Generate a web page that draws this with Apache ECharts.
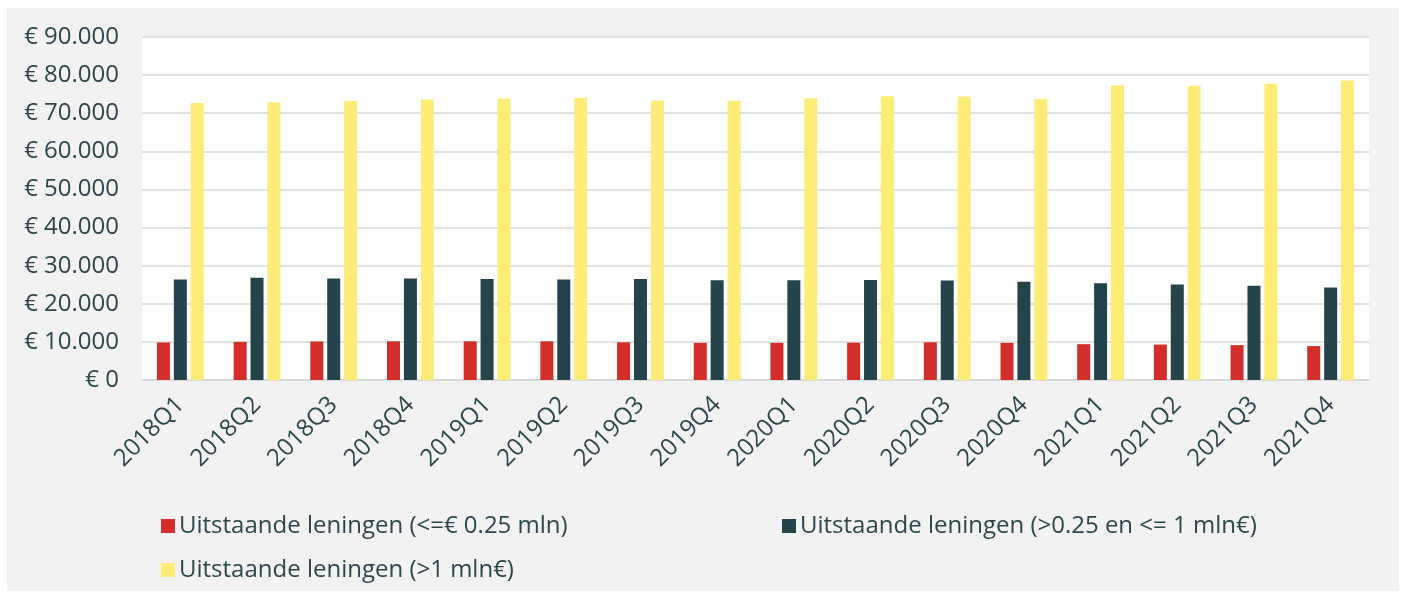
<!DOCTYPE html>
<html>
<head>
<meta charset="utf-8">
<script src="https://cdn.jsdelivr.net/npm/echarts@6/dist/echarts.min.js"></script>
<style>
  html, body { margin: 0; padding: 0; background: #fff; }
  #chart { position: absolute; left: 7px; top: 8px; width: 1392px; height: 583px; }
</style>
</head>
<body>
<div id="chart"></div>
<script>
// kwartalen
const categories = ['2018Q1', '2018Q2', '2018Q3', '2018Q4', '2019Q1', '2019Q2', '2019Q3', '2019Q4',
  '2020Q1', '2020Q2', '2020Q3', '2020Q4', '2021Q1', '2021Q2', '2021Q3', '2021Q4']

const seriesNames = [
  'Uitstaande leningen (<=€ 0.25 mln)',
  'Uitstaande leningen (>0.25 en <= 1 mln€)',
  'Uitstaande leningen (>1 mln€)'
]

// waarden (x € 1.000)
const smallLoans = [9850, 10000, 10100, 10150, 10150, 10150, 9900, 9750,
  9750, 9800, 9900, 9750, 9400, 9300, 9150, 8900]
const mediumLoans = [26350, 26800, 26600, 26600, 26500, 26350, 26500, 26150,
  26150, 26250, 26100, 25750, 25400, 25050, 24700, 24250]
const largeLoans = [72700, 72900, 73200, 73600, 73850, 74000, 73350, 73250,
  73950, 74450, 74400, 73700, 77300, 77150, 77750, 78600]

const colors = ['#d42e2b', '#24434a', '#fdec75']
const textColor = '#2b474d'
const font = 'Open Sans'

const chart = echarts.init(document.getElementById('chart'))

// legenda: drie losse stukken zodat de posities kloppen
const _legend = {
  orient: 'horizontal',
  padding: 0,
  itemWidth: 14,
  itemHeight: 14,
  icon: 'rect',
  itemGap: 6,
  textStyle: { color: textColor, fontFamily: font, fontSize: 24, padding: [0, 0, 0, -1] }
}

const option = {
  backgroundColor: '#f2f2f2',
  color: colors,
  animation: false,
  grid: {
    left: 135,
    top: 29,
    width: 1227,
    height: 343,
    show: true,
    backgroundColor: '#ffffff',
    borderWidth: 0
  },
  legend: [
    { ..._legend, data: [seriesNames[0]], left: 154, top: 506 },
    { ..._legend, data: [seriesNames[1]], left: 775, top: 506 },
    { ..._legend, data: [seriesNames[2]], left: 154, top: 550 }
  ],
  xAxis: {
    type: 'category',
    data: categories,
    axisLine: { lineStyle: { color: '#d9d9d9', width: 2 } },
    axisTick: { show: false },
    axisLabel: {
      rotate: 45,
      interval: 0,
      margin: 21,
      color: textColor,
      fontFamily: font,
      fontSize: 24
    }
  },
  yAxis: {
    type: 'value',
    min: 0,
    max: 90000,
    interval: 10000,
    axisLine: { show: false },
    axisTick: { show: false },
    splitLine: { lineStyle: { color: '#d9d9d9', width: 1.5 } },
    axisLabel: {
      margin: 23,
      color: textColor,
      fontFamily: font,
      fontSize: 24,
      formatter: v => '€ ' + (v === 0 ? '0' : v.toLocaleString('nl-NL').replace(/,/g, '.'))
    }
  },
  series: [
    { name: seriesNames[0], type: 'bar', data: smallLoans, barWidth: 13, barGap: '30%' },
    { name: seriesNames[1], type: 'bar', data: mediumLoans, barWidth: 13, barGap: '30%' },
    { name: seriesNames[2], type: 'bar', data: largeLoans, barWidth: 13, barGap: '30%' }
  ]
}

chart.setOption(option)
</script>
</body>
</html>
